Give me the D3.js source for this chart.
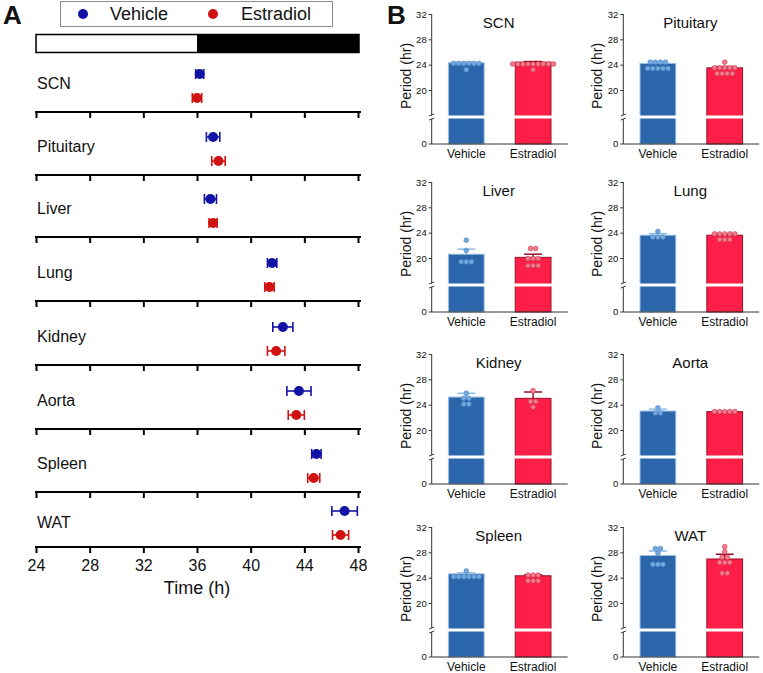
<!DOCTYPE html>
<html>
<head>
<meta charset="utf-8">
<script src="https://cdn.jsdelivr.net/npm/d3@7"></script>
<style>
body { margin: 0; background: #fff; }
text { font-family: "Liberation Sans", Arial, sans-serif; fill: #111; }
</style>
</head>
<body>
<svg id="chart" width="763" height="673"></svg>
<script>
var tissues = ["SCN", "Pituitary", "Liver", "Lung", "Kidney", "Aorta", "Spleen", "WAT"];
var groups = ["Vehicle", "Estradiol"];

// panel A: peak time (h) with SEM
var phaseVehicle = [36.2, 37.2, 37.0, 41.6, 42.4, 43.6, 44.9, 47.0];
var phaseVehicleErr = [0.3, 0.5, 0.45, 0.35, 0.75, 0.9, 0.35, 0.95];
var phaseEstradiol = [36.0, 37.6, 37.2, 41.4, 41.9, 43.4, 44.7, 46.7];
var phaseEstradiolErr = [0.35, 0.5, 0.3, 0.35, 0.65, 0.6, 0.45, 0.6];
var timeTicks = [24, 28, 32, 36, 40, 44, 48];

// panel B: period (hr), mean, SEM, single animals
var periodVehicle = [24.3, 24.2, 20.6, 23.6, 25.2, 23.0, 24.6, 27.5];
var periodVehicleErr = [0.1, 0.15, 0.8, 0.25, 0.6, 0.3, 0.15, 0.7];
var periodEstradiol = [24.4, 23.5, 20.1, 23.6, 25.0, 22.9, 24.3, 26.95];
var periodEstradiolErr = [0.1, 0.2, 0.5, 0.15, 1.0, 0.05, 0.15, 0.75];
var dotsVehicle = [
  [24.2, 24.2, 24.2, 24.2, 24.2, 24.2, 23.2],
  [24.4, 24.4, 24.4, 24.4, 23.4, 23.4, 23.4, 23.4, 23.4],
  [22.8, 21.2, 19.4, 19.4, 19.4],
  [24.2, 23.3, 23.3, 23.3],
  [25.8, 25.0, 25.0, 24.1, 24.1],
  [23.5, 22.7, 22.7],
  [25.05, 24.15, 24.15, 24.15, 24.15, 24.15, 24.15],
  [28.6, 28.6, 27.85, 26.1, 26.1, 26.1]
];
var dotsEstradiol = [
  [24.1, 24.1, 24.1, 24.1, 24.1, 24.1, 24.1, 24.1, 24.1, 23.2],
  [24.4, 23.5, 23.5, 23.5, 23.5, 23.5, 22.6, 22.6, 22.6, 22.6],
  [21.5, 21.5, 19.9, 19.9, 19.9, 18.8, 18.8, 18.8],
  [23.8, 23.8, 23.8, 23.8, 23.8, 22.9, 22.9, 22.9],
  [26.2, 24.5, 24.5, 23.6],
  [22.9, 22.9, 22.9, 22.9, 22.9],
  [24.4, 24.4, 24.4, 23.5, 23.5, 23.5],
  [28.9, 28.1, 27.2, 27.2, 26.4, 26.4, 26.4, 24.7, 24.7]
];
var periodTicks = [20, 24, 28, 32];

var svg = d3.select("#chart");

// ---------- panel A ----------
var x = d3.scaleLinear().domain([24, 48]).range([36, 358]);
var rowAxisY = [112, 175, 237, 301, 365, 429, 492, 547];
var colA = {Vehicle: "#1212a4", Estradiol: "#d01212"};

svg.append("text").attr("x", 3).attr("y", 24).style("font-size", "26px").style("font-weight", "bold").text("A");

// legend
svg.append("rect").attr("x", 60.5).attr("y", 1.5).attr("width", 272).attr("height", 25)
  .attr("fill", "none").attr("stroke", "#8c8c8c");
svg.append("circle").attr("cx", 83).attr("cy", 14).attr("r", 5).attr("fill", colA.Vehicle);
svg.append("text").attr("x", 110).attr("y", 14).attr("dy", "0.35em").style("font-size", "18px").text("Vehicle");
svg.append("circle").attr("cx", 213).attr("cy", 14).attr("r", 5).attr("fill", colA.Estradiol);
svg.append("text").attr("x", 241).attr("y", 14).attr("dy", "0.35em").style("font-size", "18px").text("Estradiol");

// light/dark bar
svg.append("rect").attr("x", x(24)).attr("y", 34.5).attr("width", x(48) - x(24) + 1).attr("height", 18)
  .attr("fill", "#000").attr("stroke", "#000").attr("stroke-width", 1.5);
svg.append("rect").attr("x", x(24) + 0.8).attr("y", 35.3).attr("width", x(36) - x(24) - 0.8).attr("height", 16.4)
  .attr("fill", "#fff");

tissues.forEach(function(t, i) {
  var ay = rowAxisY[i];
  var last = i == tissues.length - 1;
  var g = svg.append("g").attr("transform", "translate(0," + ay + ")");
  var axis = d3.axisBottom(x).tickValues(timeTicks).tickSize(6).tickSizeOuter(0).tickPadding(7);
  if (!last) axis.tickFormat("");
  g.call(axis);
  g.select(".domain").attr("stroke", "#000").attr("stroke-width", 2.2).attr("d", "M35,0H361");
  g.selectAll(".tick line").attr("stroke", "#000").attr("stroke-width", 2);
  g.selectAll(".tick text").style("font-size", "16px").attr("fill", "#111")
    .style("font-family", "'Liberation Sans', Arial, sans-serif");

  svg.append("text").attr("x", 37).attr("y", ay - (last ? 25 : 29)).attr("dy", "0.35em")
    .style("font-size", "16px").text(t);

  var pts = [
    {g: "Vehicle", v: phaseVehicle[i], e: phaseVehicleErr[i], dy: last ? -36 : -38},
    {g: "Estradiol", v: phaseEstradiol[i], e: phaseEstradiolErr[i], dy: last ? -12 : -14}
  ];
  pts.forEach(function(p) {
    var py = ay + p.dy, c = colA[p.g];
    svg.append("line").attr("x1", x(p.v - p.e)).attr("x2", x(p.v + p.e)).attr("y1", py).attr("y2", py)
      .attr("stroke", c).attr("stroke-width", 1.6);
    [p.v - p.e, p.v + p.e].forEach(function(v) {
      svg.append("line").attr("x1", x(v)).attr("x2", x(v)).attr("y1", py - 5).attr("y2", py + 5)
        .attr("stroke", c).attr("stroke-width", 1.6);
    });
    svg.append("circle").attr("cx", x(p.v)).attr("cy", py).attr("r", 5).attr("fill", c);
  });
});

svg.append("text").attr("x", x(36)).attr("y", 594).attr("text-anchor", "middle")
  .style("font-size", "18px").text("Time (h)");

// ---------- panel B ----------
svg.append("text").attr("x", 387).attr("y", 24).style("font-size", "26px").style("font-weight", "bold").text("B");

var panelX = [431.7, 623.3];
var panelY = [14, 182, 354, 527];
var barFill = {Vehicle: "#2a66a9", Estradiol: "#fd1f47"};
var barEdge = {Vehicle: "#9cc0e6", Estradiol: "#9a0e27"};
var dotFill = {Vehicle: "#72a8dd", Estradiol: "#f27b8c"};
var dotEdge = {Vehicle: "#4f8ac7", Estradiol: "#c83a52"};
var errCol = {Vehicle: "#8dbbe6", Estradiol: "#9a0e27"};

tissues.forEach(function(t, i) {
  var ax = panelX[i % 2], T = panelY[Math.floor(i / 2)];
  var B = T + 130, brk = T + 103;
  var y = d3.scaleLinear().domain([20, 32]).range([T + 76, T]);
  var xb = d3.scaleBand().domain(groups).range([ax, ax + 136]).paddingInner(0.465).paddingOuter(0.25);
  var g = svg.append("g");

  var means = [periodVehicle[i], periodEstradiol[i]];
  var errs = [periodVehicleErr[i], periodEstradiolErr[i]];
  var dots = [dotsVehicle[i], dotsEstradiol[i]];

  groups.forEach(function(grp, k) {
    var bx = xb(grp), bw = xb.bandwidth(), cx = bx + bw / 2;
    g.append("rect").attr("x", bx).attr("y", y(means[k])).attr("width", bw).attr("height", B - y(means[k]))
      .attr("fill", barFill[grp]).attr("stroke", barEdge[grp]).attr("stroke-width", 1);
    g.append("rect").attr("x", bx - 1).attr("y", brk - 1.5).attr("width", bw + 2).attr("height", 3).attr("fill", "#fff");
    // error bar
    var ye = y(means[k] + errs[k]);
    g.append("line").attr("x1", cx).attr("x2", cx).attr("y1", y(means[k])).attr("y2", ye)
      .attr("stroke", errCol[grp]).attr("stroke-width", 1.5);
    g.append("line").attr("x1", cx - 9).attr("x2", cx + 9).attr("y1", ye).attr("y2", ye)
      .attr("stroke", errCol[grp]).attr("stroke-width", 1.5);
    // dots in rows
    var vals = dots[k].slice().sort(function(a, b) { return b - a; });
    var rows = [];
    vals.forEach(function(v) {
      var r = rows[rows.length - 1];
      if (r && Math.abs(y(r[0]) - y(v)) < 2.5) r.push(v); else rows.push([v]);
    });
    rows.forEach(function(r) {
      r.forEach(function(v, j) {
        g.append("circle").attr("cx", cx + (j - (r.length - 1) / 2) * 5.1).attr("cy", y(v)).attr("r", 2.4)
          .attr("fill", dotFill[grp]).attr("stroke", dotEdge[grp]).attr("stroke-width", 0.6);
      });
    });
    g.append("text").attr("x", cx).attr("y", B + 14).attr("text-anchor", "middle")
      .style("font-size", "12px").text(grp);
  });

  // y axis (broken)
  var ya = g.append("g").attr("transform", "translate(" + ax + ",0)")
    .call(d3.axisLeft(y).tickValues(periodTicks).tickSize(3).tickPadding(2));
  ya.select(".domain").remove();
  ya.selectAll(".tick line").attr("stroke", "#333");
  ya.selectAll(".tick text").style("font-size", "9.5px").attr("fill", "#222")
    .style("font-family", "'Liberation Sans', Arial, sans-serif");
  g.append("line").attr("x1", ax).attr("x2", ax).attr("y1", T).attr("y2", brk - 2).attr("stroke", "#333");
  g.append("line").attr("x1", ax).attr("x2", ax).attr("y1", brk + 2).attr("y2", B).attr("stroke", "#333");
  g.append("line").attr("x1", ax - 2.5).attr("x2", ax + 2.5).attr("y1", brk - 1).attr("y2", brk - 3).attr("stroke", "#333");
  g.append("line").attr("x1", ax - 2.5).attr("x2", ax + 2.5).attr("y1", brk + 3).attr("y2", brk + 1).attr("stroke", "#333");
  g.append("line").attr("x1", ax - 3).attr("x2", ax).attr("y1", B).attr("y2", B).attr("stroke", "#333");
  g.append("text").attr("x", ax - 5).attr("y", B).attr("dy", "0.32em").attr("text-anchor", "end")
    .style("font-size", "9.5px").attr("fill", "#222").text("0");
  // x axis
  g.append("line").attr("x1", ax).attr("x2", ax + 136).attr("y1", B).attr("y2", B).attr("stroke", "#333");

  g.append("text").attr("transform", "translate(" + (ax - 21) + "," + (T + 62) + ") rotate(-90)")
    .attr("text-anchor", "middle").style("font-size", "14px").text("Period (hr)");
  g.append("text").attr("x", ax + 67).attr("y", T + 9).attr("dy", "0.35em").attr("text-anchor", "middle")
    .style("font-size", "15px").text(t);
});
</script>
</body>
</html>
